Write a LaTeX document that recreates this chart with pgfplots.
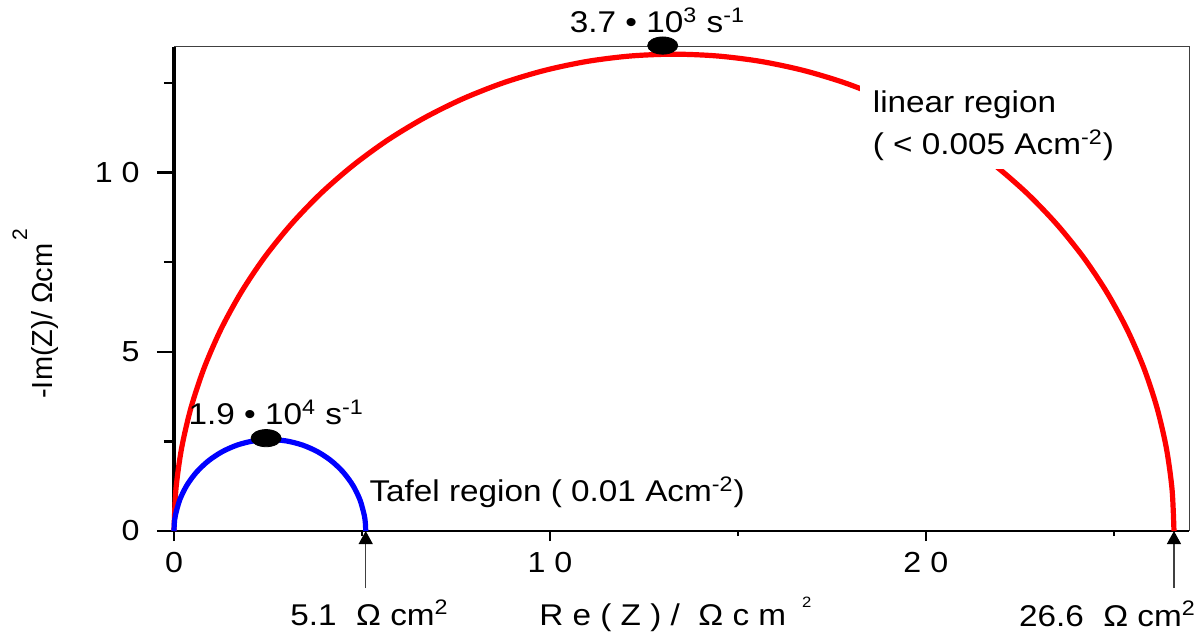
\documentclass[border=0pt]{standalone}
\usepackage{fontspec}
\setmainfont{Liberation Sans}[FakeStretch=1.11]
\newfontfamily\plainfont{Liberation Sans}
\usepackage{pgfplots}
\pgfplotsset{compat=1.18}
\usetikzlibrary{arrows.meta}
\newcommand\fa{\fontsize{15}{17}\selectfont}
\newcommand\ft{\fontsize{14.5}{17}\selectfont}
\begin{document}
\begin{tikzpicture}
\begin{axis}[
  scale only axis, width=507.5pt, height=242pt,
  xmin=0, xmax=27, ymin=0, ymax=13.5,
  axis lines=left,
  axis line style={-},
  x axis line style={-, line width=1.1pt},
  y axis line style={-, line width=1.6pt},
  clip=false,
  tick align=outside,
  xtick={0,10,20}, xticklabels={0,1\ 0,2\ 0},
  minor xtick={5,15,25},
  ytick={0,5,10}, yticklabels={0,5,1\ 0},
  minor ytick={2.5,7.5,12.5},
  major tick length=5pt, minor tick length=2.5pt,
  ytick style={/pgfplots/major tick length=8.5pt, /pgfplots/minor tick length=5pt},
  tick style={black, line width=1.2pt},
  xticklabel style={font=\ft, inner sep=0pt, anchor=north, yshift=-5.25pt},
  yticklabel style={font=\ft, inner sep=0pt, anchor=east, xshift=-12pt},
  xlabel={R e ( Z ) /\ \ Ω c m\hspace{8pt}\raisebox{9pt}{\fontsize{7.5}{8}\selectfont 2}},
  xlabel style={font=\fa, inner sep=0pt, anchor=base, at={(axis description cs:0.494,0)}, yshift=-47pt},
  ylabel={-Im(Z)/ Ωcm\kern1.5pt\raisebox{12.5pt}{\fontsize{10.5}{11}\selectfont 2}},
  ylabel style={font=\plainfont\fontsize{14.5}{17}\selectfont, inner sep=0pt, anchor=base, at={(axis description cs:-0.1202,0.449)}},
]
\draw[line width=0.5pt, black!75] (rel axis cs:0,1) -- (rel axis cs:1,1) -- (rel axis cs:1,0);
% linear region semicircle
\addplot[red, line width=2.6pt, smooth] coordinates {
(0,0) (0.051,1.159) (0.202,2.310) (0.453,3.442) (0.802,4.549) (1.246,5.621)
(1.782,6.650) (2.405,7.629) (3.112,8.549) (3.895,9.405) (4.751,10.188)
(5.671,10.895) (6.65,11.518) (7.679,12.054) (8.751,12.498) (9.858,12.847)
(10.990,13.098) (12.141,13.249) (13.3,13.3) (14.459,13.249) (15.610,13.098)
(16.742,12.847) (17.849,12.498) (18.921,12.054) (19.950,11.518) (20.929,10.895)
(21.849,10.188) (22.705,9.405) (23.488,8.549) (24.195,7.629) (24.818,6.650)
(25.354,5.621) (25.798,4.549) (26.147,3.442) (26.398,2.310) (26.549,1.159) (26.6,0)
};
% Tafel region semicircle
\addplot[blue, line width=2.6pt, smooth] coordinates {
(0,0) (0.0097,0.222) (0.0387,0.443) (0.154,0.872) (0.342,1.275) (0.597,1.639)
(0.911,1.953) (1.275,2.208) (1.678,2.396) (2.107,2.511) (2.55,2.55)
(2.993,2.511) (3.422,2.396) (3.825,2.208) (4.189,1.953) (4.503,1.639)
(4.758,1.275) (4.946,0.872) (5.061,0.443) (5.090,0.222) (5.1,0)
};
\fill[white] (axis cs:18.24,10.11) rectangle (axis cs:25.3,12.7);
\node[font=\fa, inner sep=0pt, anchor=base west] at (axis cs:18.58,11.67) {linear region};
\node[font=\fa, inner sep=0pt, anchor=base west] at (axis cs:18.58,10.49) {( < 0.005 Acm\textsuperscript{-2})};
\node[font=\fa, inner sep=0pt, anchor=base west] at (axis cs:5.19,0.81) {Tafel region ( 0.01 Acm\textsuperscript{-2})};
\addplot[only marks, mark=*, mark size=4.3pt, mark options={xscale=1.75, fill=black, draw=black}] coordinates {(13.0,13.54) (2.45,2.59)};
\node[font=\fa, inner sep=0pt, anchor=base] at (axis cs:12.86,13.90) {3.7 • 10\textsuperscript{3} s\textsuperscript{-1}};
\node[font=\fa, inner sep=0pt, anchor=base] at (axis cs:2.72,2.96) {1.9 • 10\textsuperscript{4} s\textsuperscript{-1}};
\draw[line width=0.6pt, black!75, -{Triangle[width=7pt,length=6.5pt,color=black]}] (axis cs:5.1,-1.59) -- (axis cs:5.1,0);
\draw[line width=0.6pt, black!75, -{Triangle[width=7pt,length=6.5pt,color=black]}] (axis cs:26.6,-1.59) -- (axis cs:26.6,0);
\node[font=\fa, inner sep=0pt, anchor=base] at (axis cs:5.2,-2.63) {5.1\hspace{0.65em}Ω cm\textsuperscript{2}};
\node[font=\fa, inner sep=0pt, anchor=base] at (axis cs:24.83,-2.66) {26.6\hspace{0.65em}Ω cm\textsuperscript{2}};
\end{axis}
\pgfresetboundingbox
\path (-87pt,-53pt) rectangle (514pt,265.5pt);
\end{tikzpicture}
\end{document}
